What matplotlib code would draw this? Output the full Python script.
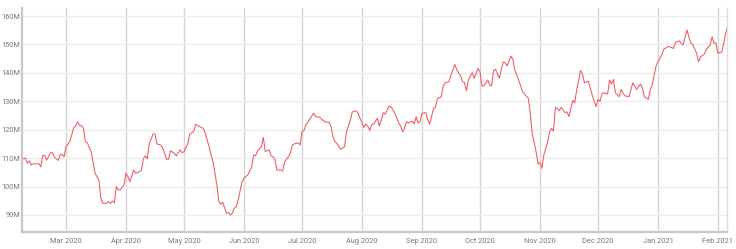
import pandas as pd
import matplotlib
matplotlib.use("Agg")
import matplotlib.pyplot as plt
import matplotlib.dates as mdates
from matplotlib.ticker import FuncFormatter

# ------------------------------------------------------------
# DATA (values in millions)
# ------------------------------------------------------------
dates = [
    "2020-02-07", "2020-02-09", "2020-02-10", "2020-02-11", "2020-02-12", "2020-02-13",
    "2020-02-16", "2020-02-17", "2020-02-18", "2020-02-19", "2020-02-20", "2020-02-22",
    "2020-02-23", "2020-02-24", "2020-02-26", "2020-02-27", "2020-02-28", "2020-02-29",
    "2020-03-01", "2020-03-03", "2020-03-05", "2020-03-06", "2020-03-07", "2020-03-08",
    "2020-03-09", "2020-03-10", "2020-03-11", "2020-03-12", "2020-03-14", "2020-03-16",
    "2020-03-18", "2020-03-19", "2020-03-20", "2020-03-22", "2020-03-23", "2020-03-24",
    "2020-03-25", "2020-03-26", "2020-03-27", "2020-03-28", "2020-03-29", "2020-03-31",
    "2020-04-01", "2020-04-02", "2020-04-03", "2020-04-05", "2020-04-06", "2020-04-08",
    "2020-04-09", "2020-04-10", "2020-04-11", "2020-04-12", "2020-04-13", "2020-04-15",
    "2020-04-16", "2020-04-17", "2020-04-19", "2020-04-20", "2020-04-21", "2020-04-22",
    "2020-04-23", "2020-04-24", "2020-04-26", "2020-04-27", "2020-04-29", "2020-04-30",
    "2020-05-01", "2020-05-03", "2020-05-04", "2020-05-06", "2020-05-07", "2020-05-09",
    "2020-05-10", "2020-05-11", "2020-05-12", "2020-05-14", "2020-05-15", "2020-05-16",
    "2020-05-18", "2020-05-19", "2020-05-20", "2020-05-21", "2020-05-22", "2020-05-23",
    "2020-05-24", "2020-05-25", "2020-05-26", "2020-05-27", "2020-05-28", "2020-05-29",
    "2020-05-31", "2020-06-01", "2020-06-03", "2020-06-05", "2020-06-06", "2020-06-07",
    "2020-06-08", "2020-06-10", "2020-06-11", "2020-06-12", "2020-06-14", "2020-06-15",
    "2020-06-16", "2020-06-17", "2020-06-18", "2020-06-20", "2020-06-21", "2020-06-22",
    "2020-06-24", "2020-06-25", "2020-06-26", "2020-06-27", "2020-06-29", "2020-06-30",
    "2020-07-01", "2020-07-02", "2020-07-03", "2020-07-05", "2020-07-07", "2020-07-08",
    "2020-07-10", "2020-07-12", "2020-07-13", "2020-07-15", "2020-07-16", "2020-07-17",
    "2020-07-18", "2020-07-19", "2020-07-21", "2020-07-22", "2020-07-23", "2020-07-24",
    "2020-07-26", "2020-07-27", "2020-07-29", "2020-07-30", "2020-07-31", "2020-08-02",
    "2020-08-03", "2020-08-04", "2020-08-05", "2020-08-06", "2020-08-07", "2020-08-09",
    "2020-08-10", "2020-08-11", "2020-08-12", "2020-08-13", "2020-08-15", "2020-08-16",
    "2020-08-18", "2020-08-20", "2020-08-21", "2020-08-22", "2020-08-23", "2020-08-24",
    "2020-08-25", "2020-08-27", "2020-08-28", "2020-08-29", "2020-08-30", "2020-08-31",
    "2020-09-01", "2020-09-03", "2020-09-04", "2020-09-05", "2020-09-07", "2020-09-08",
    "2020-09-09", "2020-09-11", "2020-09-12", "2020-09-13", "2020-09-15", "2020-09-16",
    "2020-09-18", "2020-09-19", "2020-09-21", "2020-09-22", "2020-09-23", "2020-09-24",
    "2020-09-25", "2020-09-27", "2020-09-28", "2020-09-30", "2020-10-01", "2020-10-02",
    "2020-10-03", "2020-10-05", "2020-10-06", "2020-10-07", "2020-10-08", "2020-10-09",
    "2020-10-11", "2020-10-13", "2020-10-14", "2020-10-15", "2020-10-17", "2020-10-18",
    "2020-10-19", "2020-10-21", "2020-10-23", "2020-10-24", "2020-10-26", "2020-10-27",
    "2020-10-28", "2020-10-30", "2020-10-31", "2020-11-01", "2020-11-02", "2020-11-03",
    "2020-11-05", "2020-11-06", "2020-11-07", "2020-11-08", "2020-11-09", "2020-11-10",
    "2020-11-11", "2020-11-12", "2020-11-14", "2020-11-15", "2020-11-16", "2020-11-17",
    "2020-11-18", "2020-11-19", "2020-11-20", "2020-11-22", "2020-11-23", "2020-11-24",
    "2020-11-26", "2020-11-27", "2020-11-28", "2020-11-30", "2020-12-01", "2020-12-02",
    "2020-12-03", "2020-12-04", "2020-12-06", "2020-12-07", "2020-12-08", "2020-12-09",
    "2020-12-10", "2020-12-12", "2020-12-13", "2020-12-14", "2020-12-15", "2020-12-17",
    "2020-12-19", "2020-12-21", "2020-12-23", "2020-12-24", "2020-12-25", "2020-12-27",
    "2020-12-28", "2020-12-29", "2020-12-31", "2021-01-01", "2021-01-03", "2021-01-04",
    "2021-01-06", "2021-01-07", "2021-01-09", "2021-01-10", "2021-01-12", "2021-01-13",
    "2021-01-14", "2021-01-16", "2021-01-18", "2021-01-19", "2021-01-21", "2021-01-22",
    "2021-01-23", "2021-01-25", "2021-01-26", "2021-01-28", "2021-01-29", "2021-01-30",
    "2021-01-31", "2021-02-01", "2021-02-03", "2021-02-04", "2021-02-05", "2021-02-06",
]

values = [
    109.6, 110.0, 108.2, 109.0, 107.6, 108.0,
    108.0, 107.0, 110.9, 110.9, 109.3, 111.9,
    111.9, 110.3, 109.2, 111.3, 111.3, 110.5,
    114.0, 115.8, 120.8, 121.3, 122.8, 121.4,
    121.5, 120.5, 115.8, 115.4, 112.3, 104.7,
    102.3, 95.9, 94.1, 94.1, 94.7, 94.1,
    94.9, 94.3, 100.0, 98.8, 98.8, 100.6,
    104.7, 103.5, 101.7, 105.8, 104.7, 105.2,
    105.8, 109.9, 110.8, 109.7, 115.0, 118.5,
    118.5, 115.0, 114.6, 113.5, 111.5, 109.6,
    109.6, 112.6, 111.7, 110.8, 112.9, 111.9,
    112.3, 115.2, 118.5, 119.3, 121.9, 121.1,
    120.7, 120.5, 118.7, 114.0, 111.1, 108.7,
    100.6, 94.7, 93.8, 94.5, 92.4, 90.6,
    90.8, 90.0, 90.6, 92.4, 92.9, 95.3,
    101.7, 102.9, 104.1, 107.0, 111.1, 110.8,
    112.6, 114.0, 117.3, 112.3, 112.9, 110.8,
    110.5, 109.6, 105.8, 105.8, 105.5, 108.7,
    110.5, 111.7, 114.6, 115.0, 115.4, 114.6,
    119.3, 119.7, 121.7, 123.7, 125.8, 124.6,
    124.4, 123.2, 122.8, 122.6, 121.1, 117.5,
    115.8, 115.2, 113.1, 113.5, 114.0, 119.3,
    123.4, 126.3, 126.7, 125.8, 124.0, 120.8,
    122.0, 121.3, 119.7, 121.7, 122.0, 124.0,
    121.3, 123.4, 126.0, 125.5, 128.3, 128.1,
    125.8, 122.3, 121.3, 119.3, 120.5, 122.8,
    122.4, 123.0, 122.0, 124.6, 122.3, 122.8,
    125.8, 126.0, 123.4, 122.0, 127.5, 127.9,
    131.0, 131.6, 135.4, 136.5, 136.9, 139.2,
    143.0, 141.0, 138.9, 136.9, 136.5, 133.7,
    137.5, 140.1, 138.1, 141.6, 140.4, 135.4,
    135.4, 137.5, 135.7, 135.4, 140.8, 141.3,
    138.1, 143.9, 143.6, 142.4, 145.9, 144.8,
    141.0, 137.5, 133.4, 132.6, 131.0, 125.8,
    118.7, 112.3, 107.9, 108.4, 106.4, 111.1,
    115.8, 119.3, 120.5, 119.5, 127.9, 127.5,
    126.7, 127.9, 126.0, 126.3, 124.6, 127.5,
    130.4, 129.5, 134.0, 140.8, 139.6, 136.5,
    137.1, 134.6, 132.2, 128.1, 130.7, 129.9,
    132.5, 133.0, 132.6, 137.5, 136.1, 137.7,
    133.0, 131.6, 134.2, 132.8, 131.9, 131.6,
    136.5, 134.2, 136.1, 134.6, 131.6, 130.7,
    134.0, 135.7, 142.4, 143.9, 146.3, 148.3,
    149.2, 149.2, 148.6, 150.6, 151.3, 150.4,
    149.8, 155.1, 150.4, 150.0, 146.9, 143.9,
    145.7, 146.6, 148.3, 149.8, 152.7, 150.4,
    150.6, 146.9, 147.4, 150.4, 153.9, 156.3,
]

y_ticks = [90, 100, 110, 120, 130, 140, 150, 160]

# ------------------------------------------------------------
# PLOT
# ------------------------------------------------------------
plt.rcParams["font.family"] = ["Roboto", "DejaVu Sans"]

x = pd.to_datetime(dates)
y = [v * 1e6 for v in values]

fig = plt.figure(figsize=(7.36, 2.49), dpi=100)
ax = fig.add_axes([0.0299, 0.0683, 0.958, 0.898])

ax.plot(x, y, color="#f05860", linewidth=0.75)

ax.set_xlim(pd.Timestamp("2020-02-07 06:00"), pd.Timestamp("2021-02-05 18:00"))
ax.set_ylim(84e6, 162.7e6)

ax.set_yticks([t * 1e6 for t in y_ticks])
ax.yaxis.set_major_formatter(FuncFormatter(lambda v, p: f"{v / 1e6:.0f}M"))
ax.xaxis.set_major_locator(mdates.MonthLocator())
ax.xaxis.set_major_formatter(mdates.DateFormatter("%b %Y"))

# gridlines: stronger vertical at month starts, faint horizontal
ax.grid(axis="x", color="#d4d4d4", linewidth=1.0)
ax.grid(axis="y", color="#ededed", linewidth=1.0)
ax.set_axisbelow(True)

ax.spines["top"].set_visible(False)
ax.spines["left"].set_color("#c8c8c8")
ax.spines["left"].set_linewidth(1.6)
ax.spines["bottom"].set_color("#c8c8c8")
ax.spines["bottom"].set_linewidth(1.6)
ax.spines["right"].set_color("#e0e0e0")
ax.spines["right"].set_linewidth(1.0)

ax.tick_params(axis="both", length=0, labelsize=5.3, labelcolor="#777777")
ax.tick_params(axis="y", pad=1.5)
ax.tick_params(axis="x", pad=4)

fig.savefig("out.png", dpi=100)
